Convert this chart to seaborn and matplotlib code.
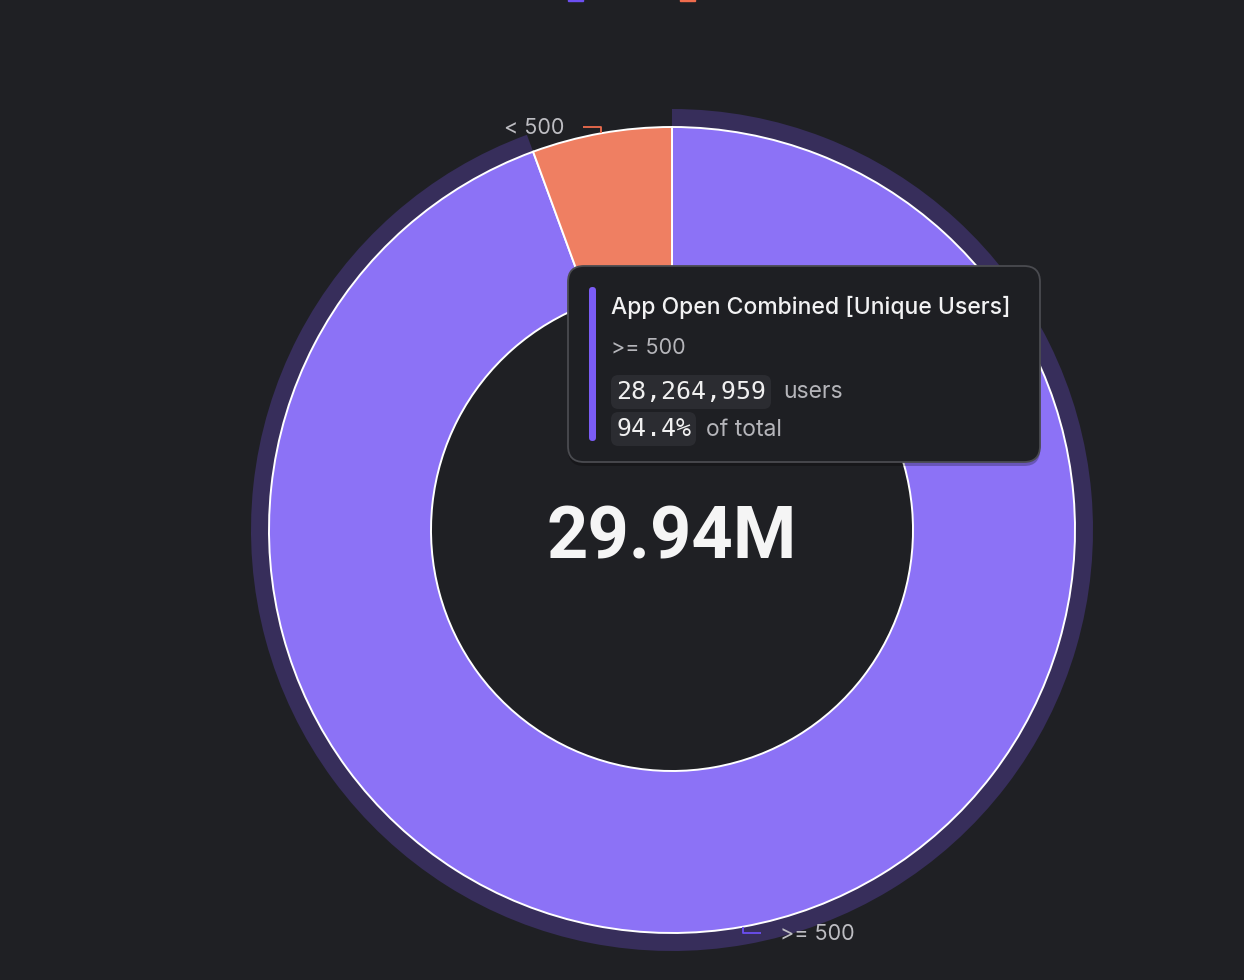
import numpy as np
import seaborn as sns
import matplotlib.pyplot as plt
from matplotlib.patches import FancyBboxPatch, Rectangle

# data
segments = [">= 500", "< 500"]
users = [28264959, 1676735]
series_name = "App Open Combined [Unique Users]"
hovered = 0
center_label = "29.94M"

total = sum(users)
share = [u / total * 100 for u in users]

bg = "#1f2024"
colors = ["#8c72f6", "#ef7f62"]
legend_colors = ["#6c4ff2", "#ef6c4d"]
ring_color = "#372e5b"
label_color = "#bdbdc2"

sns.set_theme(style="dark", rc={"figure.facecolor": bg, "axes.facecolor": bg,
                                "savefig.facecolor": bg})
plt.rcParams["font.family"] = ["Inter", "DejaVu Sans"]

fig = plt.figure(figsize=(12.44, 9.8), dpi=100)
ax = fig.add_axes([0, 0, 1, 1])

cx, cy = 672, 530
r_out, r_in = 403, 241

# hover ring behind the hovered slice
ring_cols = [ring_color if i == hovered else "none" for i in range(len(users))]
ax.pie(users, colors=ring_cols, startangle=270, counterclock=True,
       radius=r_out + 18, center=(cx, cy),
       wedgeprops=dict(width=22, edgecolor="none", zorder=1))

wedges, _ = ax.pie(users, colors=colors, startangle=270, counterclock=True,
                   radius=r_out, center=(cx, cy),
                   wedgeprops=dict(width=r_out - r_in, edgecolor="white",
                                   linewidth=1.4, zorder=2))

# outside labels with elbow connectors
for w, name, col in zip(wedges, segments, legend_colors):
    th = np.deg2rad((w.theta1 + w.theta2) / 2)
    px, py = cx + r_out * np.cos(th), cy + r_out * np.sin(th)
    sx, sy = np.sign(np.cos(th)), np.sign(np.sin(th))
    ey = py + 6 * sy
    ex = px + 18 * sx
    ax.plot([px, px, ex], [py, ey, ey], color=col, lw=1.3, zorder=3,
            solid_capstyle="butt")
    ax.text(ex + 19 * sx, ey + 7, name, ha="left" if sx > 0 else "right",
            va="baseline", fontsize=15.5, color=label_color, zorder=3)

# cut-off legend markers at the top edge
for x0, col in zip([568, 680], legend_colors):
    ax.add_patch(Rectangle((x0, -14), 15, 15, color=col, zorder=3))

ax.text(cx, 558, center_label, ha="center", va="baseline", fontsize=52,
        fontweight="bold", family="Roboto", color="#f5f5f5", zorder=3)

# tooltip
ax.add_patch(FancyBboxPatch((568, 270), 472, 196,
                            boxstyle="round,pad=0,rounding_size=16",
                            fc="black", ec="none", alpha=0.25, zorder=4))
ax.add_patch(FancyBboxPatch((568, 266), 472, 196,
                            boxstyle="round,pad=0,rounding_size=16",
                            fc="#1e1f23", ec="#4a4b50", lw=1.3, zorder=5))
ax.add_patch(FancyBboxPatch((589, 287), 7, 154,
                            boxstyle="round,pad=0,rounding_size=3.5",
                            fc="#7b5cf5", ec="none", zorder=6))
ax.text(611, 314, series_name, va="baseline", fontsize=16.5, fontweight="medium",
        color="#f2f2f3", zorder=6)
ax.text(611, 354, segments[hovered], va="baseline", fontsize=15.5,
        color="#b5b5ba", zorder=6)

box = dict(boxstyle="round,pad=0.2,rounding_size=0.3", fc="#2b2c31", ec="none")
ax.text(616, 399, f"{users[hovered]:,}", va="baseline", fontsize=18,
        family="DejaVu Sans Mono", color="#f0f0f0", bbox=box, zorder=6)
ax.text(783, 398, "users", va="baseline", fontsize=16.5, color="#b5b5ba", zorder=6)
ax.text(616, 436, f"{share[hovered]:.1f}%", va="baseline", fontsize=18,
        family="DejaVu Sans Mono", color="#f0f0f0", bbox=box, zorder=6)
ax.text(706, 436, "of total", va="baseline", fontsize=16.5, color="#b5b5ba", zorder=6)

ax.set_xlim(0, 1244)
ax.set_ylim(980, 0)
ax.set_aspect("auto")
ax.axis("off")

fig.savefig("out.png", dpi=100, facecolor=bg)
